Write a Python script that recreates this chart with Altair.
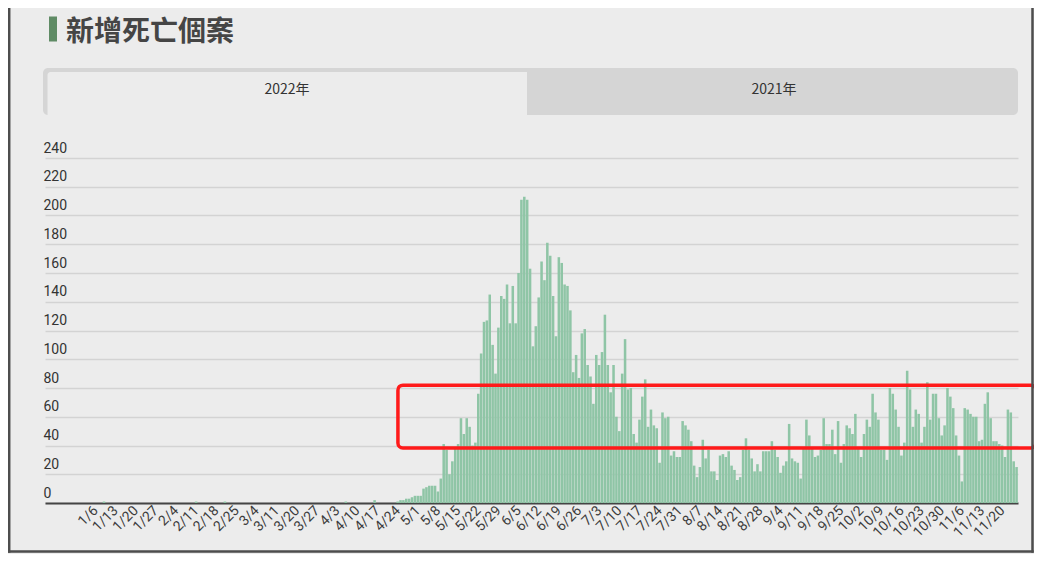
import altair as alt
import pandas as pd

# ---- data ----
tick_labels = ["1/6", "1/13", "1/20", "1/27", "2/4", "2/11", "2/18", "2/25",
               "3/4", "3/11", "3/20", "3/27", "4/3", "4/10", "4/17", "4/24",
               "5/1", "5/8", "5/15", "5/22", "5/29", "6/5", "6/12", "6/19",
               "6/26", "7/3", "7/10", "7/17", "7/24", "7/31", "8/7", "8/14",
               "8/21", "8/28", "9/4", "9/11", "9/18", "9/25", "10/2", "10/9",
               "10/16", "10/23", "10/30", "11/6", "11/13", "11/20"]
first_tick_index = 17
days_between_ticks = 7

deaths_quiet = [
    0, 0, 0, 0, 0, 0, 0, 0, 0, 0,
    0, 0, 0, 0, 0, 0, 0, 0, 0, 0,
    1, 0, 0, 0, 0, 0, 0, 0, 0, 0,
    0, 0, 0, 0, 0, 0, 0, 0, 0, 0,
    0, 0, 0, 0, 0, 0, 0, 0, 0, 0,
    0, 0, 1, 0, 0, 0, 0, 0, 0, 0,
    0, 0, 1, 0, 0, 0, 0, 0, 0, 0,
    0, 0, 0, 0, 0, 0, 0, 0, 0, 0,
    0, 0, 0, 0, 0, 0, 0, 0, 0, 0,
    0, 0, 0, 0, 0, 0, 0, 0, 0, 0,
    0, 0, 0, 0, 1, 0, 0, 0, 0, 0,
    0, 0, 0, 0, 2, 0, 0, 0, 0, 0,
    0, 0,
]
deaths_wave = [
    1, 2, 2, 3, 3, 4, 5, 5, 5, 10,
    11, 12, 12, 12, 8, 17, 41, 37, 20, 29,
    38, 41, 59, 48, 59, 53, 40, 42, 76, 104,
    126, 127, 145, 110, 90, 122, 144, 142, 152, 125,
    151, 125, 160, 211, 213, 211, 163, 109, 123, 143,
    168, 155, 181, 172, 144, 116, 171, 167, 152, 151,
    134, 91, 103, 87, 118, 121, 96, 88, 69, 103,
    96, 105, 131, 96, 77, 96, 60, 50, 90, 114,
    79, 80, 48, 42, 58, 74, 86, 53, 65, 54,
    52, 28, 63, 59, 60, 33, 36, 32, 32, 57,
    54, 51, 43, 26, 18, 25, 44, 31, 37, 22,
    22, 16, 33, 34, 32, 36, 26, 23, 16, 18,
    37, 45, 37, 31, 22, 27, 22, 36, 36, 36,
    43, 37, 32, 21, 26, 29, 55, 31, 29, 28,
    17, 38, 58, 47, 38, 32, 33, 37, 59, 41,
    41, 51, 34, 57, 28, 41, 54, 52, 48, 62,
    39, 32, 48, 58, 53, 76, 63, 58, 37, 37,
    30, 80, 76, 65, 53, 33, 42, 92, 79, 53,
    65, 62, 42, 53, 84, 58, 76, 76, 59, 47,
    54, 80, 74, 66, 47, 33, 15, 66, 65, 62,
    60, 60, 43, 44, 69, 77, 59, 43, 43, 41,
    40, 32, 65, 63, 29, 25,
]
y_ticks = [0, 20, 40, 60, 80, 100, 120, 140, 160, 180, 200, 220, 240]

# highlighted band (annotation) in data units
box_day_from, box_day_to = 122.6, 344.2
box_low, box_high = 38.3, 82.0

title_text = "新增死亡個案"
tab_labels = ["2022年", "2021年"]

# ---- styles ----
BG = "#ececec"
BAR = "#8fc5a6"
FONT = "Roboto"
CJK = "Noto Sans CJK TC"
FRAME = "#4d4d4d"

deaths = deaths_quiet + deaths_wave
n_days = len(deaths)
df = pd.DataFrame({"day": list(range(n_days)), "deaths": deaths})

tick_values = [first_tick_index + 0.5 + days_between_ticks * k for k in range(len(tick_labels))]
label_array = "[" + ",".join("'" + t + "'" for t in tick_labels) + "]"
label_expr = label_array + "[round((datum.value - %s) / %d)]" % (first_tick_index + 0.5, days_between_ticks)

xscale = alt.Scale(domain=[0, n_days], nice=False, zero=False)
yscale = alt.Scale(domain=[0, 240], nice=False)

xaxis = alt.Axis(values=tick_values, labelExpr=label_expr, labelAngle=315,
                 labelAlign="right", labelBaseline="middle", labelPadding=5,
                 ticks=False, tickSize=0, domain=True, domainColor="#444444",
                 domainWidth=2, grid=False, title=None, labelFontSize=14,
                 labelColor="#3c3c3c", labelFont=FONT, labelOverlap=False,
                 labelFlush=False)
yaxis = alt.Axis(values=y_ticks, labelAlign="left", labelBaseline="bottom",
                 labelPadding=2, labelOffset=-3, ticks=False, tickSize=0,
                 domain=False, grid=True, gridColor="#d3d3d3", gridWidth=1.5,
                 title=None, labelFontSize=14, labelColor="#333333",
                 labelFont=FONT, labelFlush=False)

bars = alt.Chart(df).transform_calculate(
    x0="datum.day + 0.06", x1="datum.day + 0.94", base="0"
).mark_rect(color=BAR).encode(
    x=alt.X("x0:Q", scale=xscale, axis=xaxis),
    x2="x1:Q",
    y=alt.Y("deaths:Q", scale=yscale, axis=yaxis),
    y2="base:Q",
)

box_df = pd.DataFrame({"x0": [box_day_from], "x1": [box_day_to],
                       "deaths": [box_high], "base": [box_low]})
box = alt.Chart(box_df).mark_rect(fill="transparent", stroke="#ff1a1a",
                                  strokeWidth=3.5, cornerRadius=5).encode(
    x=alt.X("x0:Q", scale=xscale, axis=xaxis),
    x2="x1:Q",
    y=alt.Y("deaths:Q", scale=yscale, axis=yaxis),
    y2="base:Q",
)

one = pd.DataFrame({"k": [0]})
base = alt.Chart(one)

frame_left = base.mark_rule(color=FRAME, strokeWidth=2.5).encode(
    x=alt.value(-35.8), y=alt.value(-150), y2=alt.value(394.7))
frame_right = base.mark_rule(color=FRAME, strokeWidth=2.5).encode(
    x=alt.value(987.5), y=alt.value(-150), y2=alt.value(394.7))
frame_bottom = base.mark_rule(color=FRAME, strokeWidth=2.5).encode(
    x=alt.value(-37), x2=alt.value(988.7), y=alt.value(393.5))
tab_bar = base.mark_rect(color="#d5d5d5", cornerRadius=5).encode(
    x=alt.value(-2), x2=alt.value(973), y=alt.value(-90), y2=alt.value(-43))
tab_active = base.mark_rect(color=BG, cornerRadiusTopLeft=3).encode(
    x=alt.value(2.5), x2=alt.value(482), y=alt.value(-86), y2=alt.value(-43))
tab_text1 = base.mark_text(text=tab_labels[0], font=CJK, fontSize=14, color="#333333",
                           align="center", baseline="middle").encode(
    x=alt.value(242), y=alt.value(-68))
tab_text2 = base.mark_text(text=tab_labels[1], font=CJK, fontSize=14, color="#333333",
                           align="center", baseline="middle").encode(
    x=alt.value(729), y=alt.value(-68))
title_bar = base.mark_rect(color="#5f8b65").encode(
    x=alt.value(4), x2=alt.value(12), y=alt.value(-141.5), y2=alt.value(-116.5))
title = base.mark_text(text=title_text, font=CJK, fontSize=28, fontWeight="bold",
                       color="#454545", align="left", baseline="middle").encode(
    x=alt.value(21), y=alt.value(-125))

chart = alt.layer(
    bars, box, frame_left, frame_right, frame_bottom, tab_bar, tab_active,
    tab_text1, tab_text2, title_bar, title
).properties(
    width=973, height=345,
    autosize=alt.AutoSizeParams(type="none"),
    padding={"left": 37, "top": 150, "right": 16, "bottom": 51},
).configure(background=BG).configure_view(stroke="transparent")

chart.save("out.html", embed_options={"renderer": "svg", "actions": False})
